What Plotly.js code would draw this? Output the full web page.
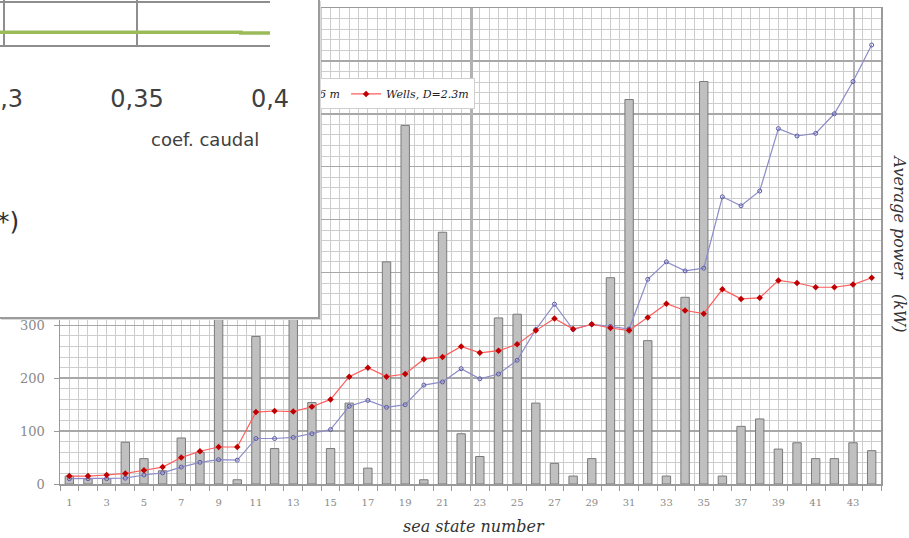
<!DOCTYPE html>
<html>
<head>
<meta charset="utf-8">
<script src="https://cdn.plot.ly/plotly-3.0.1.min.js"></script>
<style>
  html, body { margin: 0; padding: 0; background: #fff; }
  #wrap { position: relative; width: 909px; height: 538px; overflow: hidden; }
  #main { position: absolute; left: 0; top: 0; width: 909px; height: 538px; }
  #inset { position: absolute; left: 0; top: 0; width: 318px; height: 317px; background: #fff;
           border-right: 2px solid #9b9b9b; border-bottom: 2px solid #9b9b9b;
           box-shadow: 1px 1px 0 #dadada; z-index: 10; overflow: hidden; }
</style>
</head>
<body>
<div id="wrap">
  <div id="main"></div>
  <div id="inset"></div>
</div>
<script>
// ---- main chart data ----
const seaStates = [1,2,3,4,5,6,7,8,9,10,11,12,13,14,15,16,17,18,19,20,21,22,23,24,25,26,27,28,29,30,31,32,33,34,35,36,37,38,39,40,41,42,43,44];
const occurrence = [15,10,10,79,48,25,87,60,360,8,279,67,340,154,67,153,30,420,678,8,476,95,52,314,321,153,39,15,48,390,727,271,15,353,761,15,109,123,66,78,48,48,78,63];
const wellsPower = [15,15,17,20,26,32,50,62,70,70,136,138,137,146,160,203,220,203,208,236,240,260,248,252,264,290,313,293,302,295,290,315,341,328,322,368,350,352,385,380,372,372,377,390];
const otherPower = [10,10,10,11,17,21,32,41,46,45,86,86,88,95,103,147,158,145,150,187,193,218,199,208,234,292,340,292,302,298,293,387,420,403,408,543,526,554,672,658,663,700,761,830];
const tickStates = [1,3,5,7,9,11,13,15,17,19,21,23,25,27,29,31,33,35,37,39,41,43];
const tickLabels = tickStates.map(String);
const majorXLines = [22.55, 43.05];
const seriesNames = ["Impulse, D=1.6 m", "Wells, D=2.3m"];

// ---- inset data ----
const coefCaudal = [0.2985, 0.32, 0.34, 0.36, 0.38, 0.389, 0.4];
const insetValues = [0.30, 0.30, 0.30, 0.30, 0.30, 0.28, 0.28];
const insetTicks = [0.3, 0.35, 0.4];
const insetTickText = ["0,3", "0,35", "0,4"];

const serif = "DejaVu Serif, Liberation Serif, serif";
const sans = "DejaVu Sans, Open Sans, sans-serif";
const range = [0.5, 44.5];

const traces = [
  { type: 'bar', x: seaStates, y: occurrence, width: 0.45, showlegend: false,
    marker: { color: '#c0c0c0', line: { color: '#7a7a7a', width: 1 } } },
  { type: 'scatter', mode: 'lines+markers', name: seriesNames[0], x: seaStates, y: otherPower,
    line: { color: '#8c8cc8', width: 1.2 },
    marker: { symbol: 'circle-open', size: 4, color: '#5a5aa8', line: { width: 1 } } },
  { type: 'scatter', mode: 'lines+markers', name: seriesNames[1], x: seaStates, y: wellsPower,
    line: { color: '#ff5c5c', width: 1.2 },
    marker: { symbol: 'diamond', size: 5, color: '#c00000' } },
  { type: 'scatter', x: [], y: [], xaxis: 'x2', showlegend: false, hoverinfo: 'skip' },
  { type: 'scatter', x: [], y: [], xaxis: 'x3', showlegend: false, hoverinfo: 'skip' }
];

const layout = {
  width: 909, height: 538,
  margin: { l: 60, r: 28, t: 8, b: 54 },
  paper_bgcolor: '#fff', plot_bgcolor: '#fff',
  showlegend: true,
  bargap: 0,
  xaxis: {
    range: range, tickmode: 'linear', tick0: 0.5, dtick: 1,
    ticks: 'outside', ticklen: 5, tickcolor: '#9a9a9a', showticklabels: false,
    showgrid: true, gridcolor: '#cdcdcd', gridwidth: 1,
    minor: { tick0: 0, dtick: 0.5, showgrid: true, gridcolor: '#cdcdcd', gridwidth: 1 },
    showline: true, mirror: true, linecolor: '#9a9a9a', linewidth: 1.5, zeroline: false
  },
  xaxis2: {
    overlaying: 'x', anchor: 'y', side: 'bottom', range: range,
    tickmode: 'array', tickvals: tickStates, ticktext: tickLabels,
    ticks: '', showgrid: false, showline: false, zeroline: false,
    ticklabelstandoff: 11,
    tickfont: { family: serif, size: 10, color: '#8a8a8a' }
  },
  xaxis3: {
    overlaying: 'x', anchor: 'y', range: range,
    tickmode: 'array', tickvals: majorXLines, showticklabels: false, ticks: '',
    showgrid: true, gridcolor: '#b2b2b2', gridwidth: 2.5, showline: false, zeroline: false
  },
  yaxis: {
    range: [0, 900], tickmode: 'linear', tick0: 0, dtick: 100,
    ticks: 'outside', ticklen: 5, tickcolor: '#9a9a9a',
    showgrid: true, gridcolor: '#a8a8a8', gridwidth: 1.5,
    minor: { dtick: 20, showgrid: true, gridcolor: '#cdcdcd', gridwidth: 1 },
    showline: true, mirror: true, linecolor: '#9a9a9a', linewidth: 1.5, zeroline: false,
    ticklabelstandoff: 6,
    tickfont: { family: serif, size: 13, color: '#8a8a8a' }
  },
  legend: {
    orientation: 'h', x: 0.5055, xanchor: 'right', y: 0.852, yanchor: 'top',
    bgcolor: '#ffffff', bordercolor: '#cfcfcf', borderwidth: 1,
    font: { family: serif, size: 11, style: 'italic', color: '#222' }
  },
  annotations: [
    { text: 'sea state number', xref: 'paper', yref: 'paper', x: 0.504, y: -0.09,
      xanchor: 'center', yanchor: 'middle', showarrow: false,
      font: { family: serif, size: 16, style: 'italic', color: '#333' } },
    { text: 'Average power\u00a0\u00a0\u00a0(kW)', xref: 'paper', yref: 'paper', x: 1.022, y: 0.505,
      xanchor: 'center', yanchor: 'middle', textangle: 90, showarrow: false,
      font: { family: serif, size: 16, style: 'italic', color: '#333' } }
  ]
};

Plotly.newPlot('main', traces, layout, { staticPlot: true, displayModeBar: false });

// ---- inset (fragment of another chart overlapping the corner) ----
const insetTraces = [
  { type: 'scatter', mode: 'lines', x: coefCaudal, y: insetValues, line: { color: '#9bbb59', width: 3.5, shape: 'hv' }, showlegend: false }
];
const insetLayout = {
  width: 318, height: 317,
  margin: { l: 0, r: 48, t: 0, b: 272 },
  paper_bgcolor: '#fff', plot_bgcolor: '#fff',
  separators: ',.',
  showlegend: false,
  xaxis: {
    range: [0.2985, 0.4], tickmode: 'array', tickvals: insetTicks, ticktext: insetTickText,
    ticks: '', showgrid: true, gridcolor: '#8e8e8e', gridwidth: 1.5,
    showline: true, linecolor: '#8e8e8e', linewidth: 2, zeroline: false,
    ticklabelstandoff: 31, ticklabeloverflow: 'allow',
    tickfont: { family: sans, size: 24, color: '#404040' }
  },
  yaxis: {
    range: [0, 1.05], tickmode: 'array', tickvals: [1], showticklabels: false, ticks: '',
    showgrid: true, gridcolor: '#8e8e8e', gridwidth: 1.5, showline: false, zeroline: false
  },
  annotations: [
    { text: 'coef. caudal', xref: 'paper', yref: 'paper', x: 0.759, y: -2.11,
      xanchor: 'center', yanchor: 'middle', showarrow: false,
      font: { family: sans, size: 18, color: '#404040' } },
    { text: '*)', xref: 'paper', yref: 'paper', x: 0.078, y: -3.93,
      xanchor: 'right', yanchor: 'middle', showarrow: false,
      font: { family: sans, size: 25, color: '#303030' } }
  ]
};
Plotly.newPlot('inset', insetTraces, insetLayout, { staticPlot: true, displayModeBar: false });
</script>
</body>
</html>
